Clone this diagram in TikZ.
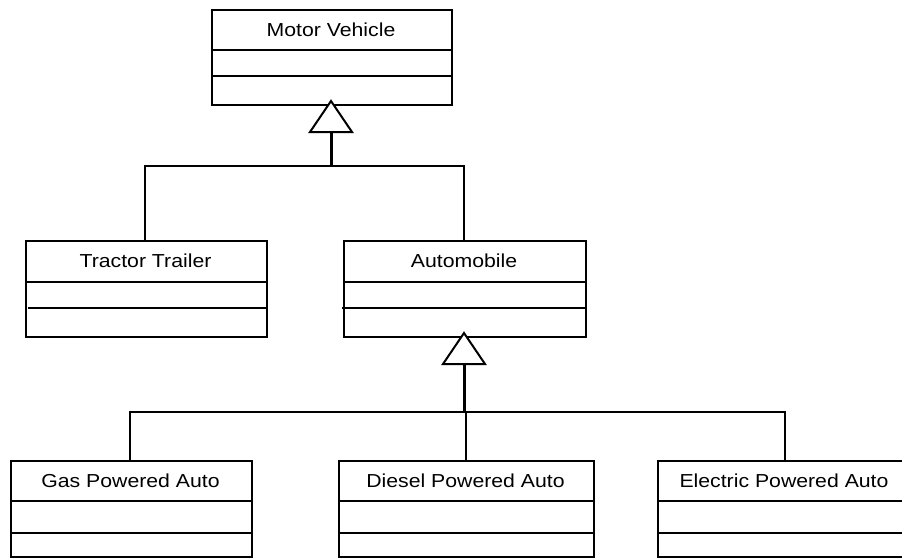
\documentclass[tikz,border=0pt]{standalone}
\usepackage{fontspec}
\newfontfamily\umlfont[FakeStretch=1.13]{Liberation Sans}
\begin{document}
\begin{tikzpicture}[x=1pt,y=-1pt,
  line join=miter,
  boxline/.style={draw=black,line width=2pt},
  classbox/.style={boxline,rectangle,inner sep=0pt,anchor=north west},
  classname/.style={font=\umlfont\fontsize{18.8}{22}\selectfont,inner sep=0pt},
  link/.style={draw=black,line width=2pt},
  stem/.style={draw=black,line width=3pt},
  gentri/.style={draw=black,line width=2pt,fill=white}]
\useasboundingbox (0,0) rectangle (902,557);

% class boxes: outer frame, name, two compartment separators
\node[classbox,minimum width=240pt,minimum height=95pt] (mv) at (211,9) {};
\node[classname] (mvname) at (331,29.5) {Motor Vehicle};
\draw[boxline] (211,50) -- (451,50);
\draw[boxline] (211,76) -- (452,76);

\node[classbox,minimum width=241pt,minimum height=96pt] (tt) at (25,240) {};
\node[classname] (ttname) at (145.5,261) {Tractor Trailer};
\draw[boxline] (25,282) -- (266,282);
\draw[boxline] (28,308) -- (268,308);

\node[classbox,minimum width=242pt,minimum height=96pt] (au) at (343,240) {};
\node[classname] (auname) at (464,261) {Automobile};
\draw[boxline] (343,282) -- (585,282);
\draw[boxline] (342,308) -- (585,308);

\node[classbox,minimum width=241pt,minimum height=96pt] (gas) at (10,460) {};
\node[classname] (gasname) at (130.5,480.5) {Gas Powered Auto};
\draw[boxline] (10,501) -- (251,501);
\draw[boxline] (10,533) -- (251,533);

\node[classbox,minimum width=255pt,minimum height=96pt] (die) at (338,460) {};
\node[classname] (diename) at (465.5,480.5) {Diesel Powered Auto};
\draw[boxline] (338,501) -- (593,501);
\draw[boxline] (338,533) -- (593,533);

\node[classbox,minimum width=255pt,minimum height=96pt] (ele) at (657,460) {};
\node[classname] (elename) at (784,480.5) {Electric Powered Auto};
\draw[boxline] (657,501) -- (912,501);
\draw[boxline] (657,533) -- (912,533);

% generalisation: Motor Vehicle <- Tractor Trailer, Automobile
\coordinate (mvbase) at (331,132);
\coordinate (mvjoin) at (331,166);
\draw[stem] (mvbase) -- (mvjoin);
\draw[link] (tt.north -| 145,0) |- (mvjoin) -| (au.north -| 464,0);
\draw[gentri] (331,101) -- (352,132) -- (310,132) -- cycle;

% generalisation: Automobile <- Gas, Diesel, Electric
\coordinate (aubase) at (464,364);
\coordinate (aujoin) at (464,412);
\draw[stem] (aubase) -- (aujoin);
\draw[link] (gas.north -| 130,0) |- (aujoin) -| (ele.north -| 785,0);
\draw[link] (aujoin -| 466,0) -- (die.north -| 466,0);
\draw[gentri] (464,333) -- (485,364) -- (443,364) -- cycle;
\end{tikzpicture}
\end{document}
